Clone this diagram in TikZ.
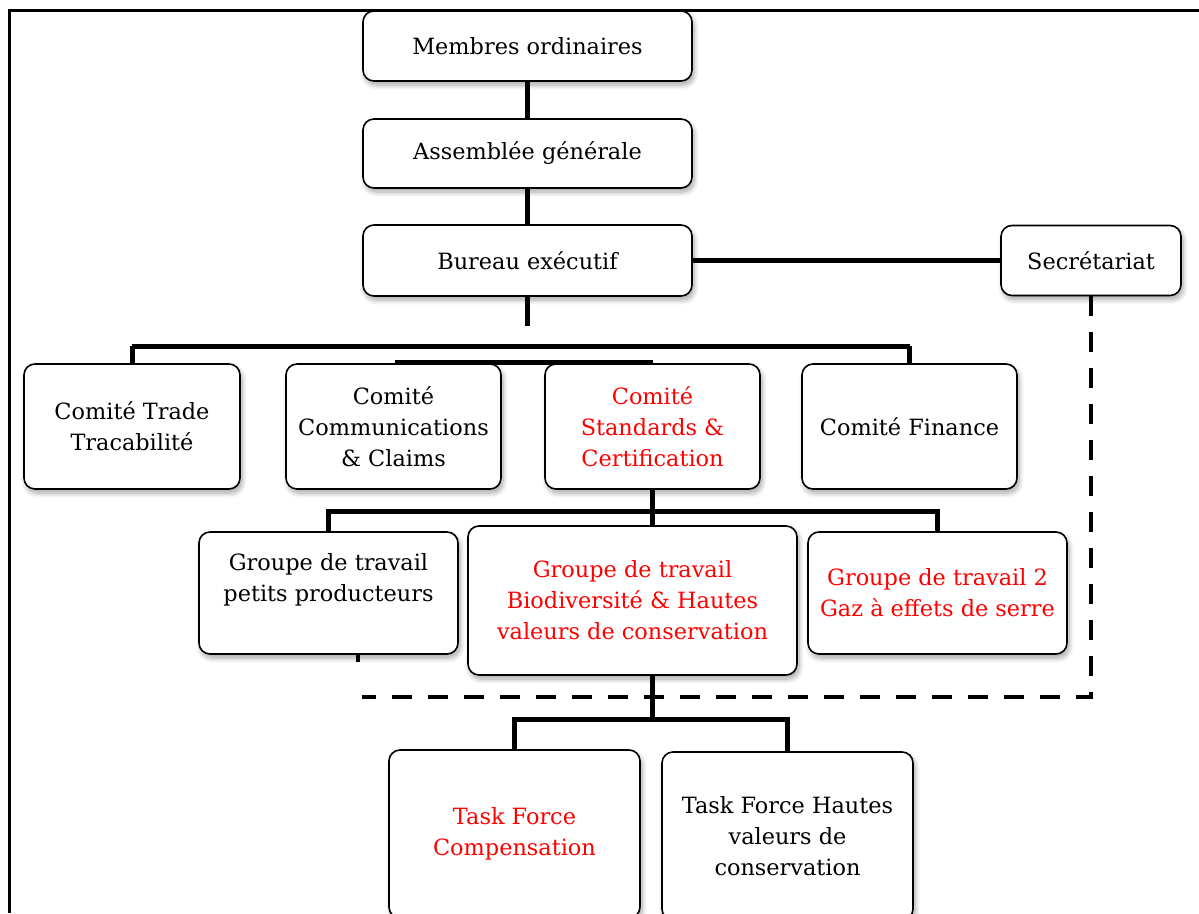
\documentclass[tikz,border=0pt]{standalone}
\usepackage{fontspec}
\setmainfont{DejaVu Serif}
\usetikzlibrary{shadows.blur}
\begin{document}
\begin{tikzpicture}[x=1pt,y=-1pt,
 box/.style={draw, line width=1.6pt, rounded corners=11pt, fill=white, align=center, inner sep=0pt,
   font=\fontsize{22.4}{31}\selectfont,
   blur shadow={shadow xshift=2pt, shadow yshift=-4pt, shadow blur steps=8, shadow blur radius=5pt, shadow opacity=35}},
 txt/.style={align=center, inner sep=0pt, font=\fontsize{22.4}{31}\selectfont},
 hot/.style={text=red},
 conn/.style={line width=5pt},
 dashline/.style={line width=4.5pt, dash pattern=on 20pt off 16pt},
]
\useasboundingbox (0,0) rectangle (1199,913);
\clip (0,0) rectangle (1199,913);
\draw[line width=3pt] (9,913) -- (9,10) -- (1199,10);

% coordinates for connector ends
\coordinate (bstub) at (527.5,326);
\coordinate (barL) at (132,346);
\coordinate (barR) at (909.5,346);
\coordinate (b2L) at (395,362);
\coordinate (b2R) at (652.5,362);
\coordinate (d1) at (1091,697);
\coordinate (d2) at (362,697);
\coordinate (tj) at (652.5,720);
\coordinate (s0) at (358,655);
\coordinate (s1) at (358,662);

% connectors (behind boxes)
\draw[conn] (barL) -- (barR);
\draw[conn] (b2L) -- (b2R);

% nodes
\node[box, minimum width=329pt, minimum height=70pt] (mo) at (527.5,46) {Membres ordinaires};
\node[box, minimum width=329pt, minimum height=69pt] (ag) at (527.5,153.5) {Assemblée générale};
\node[box, minimum width=329pt, minimum height=71pt] (be) at (527.5,260.5) {Bureau exécutif};
\node[box, minimum width=180pt, minimum height=70pt] (sec) at (1091,260.5) {Secrétariat};

\draw[dashline] (sec.south) -- (d1) -- (d2);

\node[box, minimum width=216pt, minimum height=125pt] (ct) at (132,426.5) {Comité Trade\\Tracabilité};
\node[box, minimum width=215pt, minimum height=125pt] (cc) at (393.5,426.5) {Comité\\Communications\\\& Claims};
\node[box, hot, minimum width=215pt, minimum height=125pt] (cs) at (652.5,426.5) {Comité\\Standards \&\\Certification};
\node[box, minimum width=215pt, minimum height=125pt] (cf) at (909.5,426.5) {Comité Finance};

\node[box, minimum width=259pt, minimum height=122pt] (gp) at (328.5,593) {};
\node[txt] (gpt) at (328.5,580) {Groupe de travail\\petits producteurs};
\node[box, hot, minimum width=329pt, minimum height=149pt] (bio) at (632.5,600.5) {Groupe de travail\\Biodiversité \& Hautes\\valeurs de conservation};
\node[box, hot, minimum width=259pt, minimum height=122pt] (g2) at (937.5,593) {Groupe de travail 2\\Gaz à effets de serre};

\node[box, hot, minimum width=251pt, minimum height=168pt] (tc) at (514.5,834) {Task Force\\Compensation};
\node[box, minimum width=251pt, minimum height=168pt] (th) at (787.5,836) {Task Force Hautes\\valeurs de\\conservation};

% connectors between nodes
\draw[conn] (mo.south) -- (ag.north);
\draw[conn] (ag.south) -- (be.north);
\draw[conn] (be.east) -- (sec.west);
\draw[conn] (be.south) -- (bstub);
\draw[conn] (ct.north) -- (barL);
\draw[conn] (cf.north) -- (barR);
\draw[conn] (cs.south) -- (cs.south |- bio.north);
\draw[conn] (gp.north) -- ++(0,-20) -| (g2.north);
\draw[conn] (tj |- bio.south) -- (tj);
\draw[conn] (tc.north) -- ++(0,-30) -| (th.north);
\draw[line width=3.5pt] (s0) -- (s1);
\end{tikzpicture}
\end{document}
